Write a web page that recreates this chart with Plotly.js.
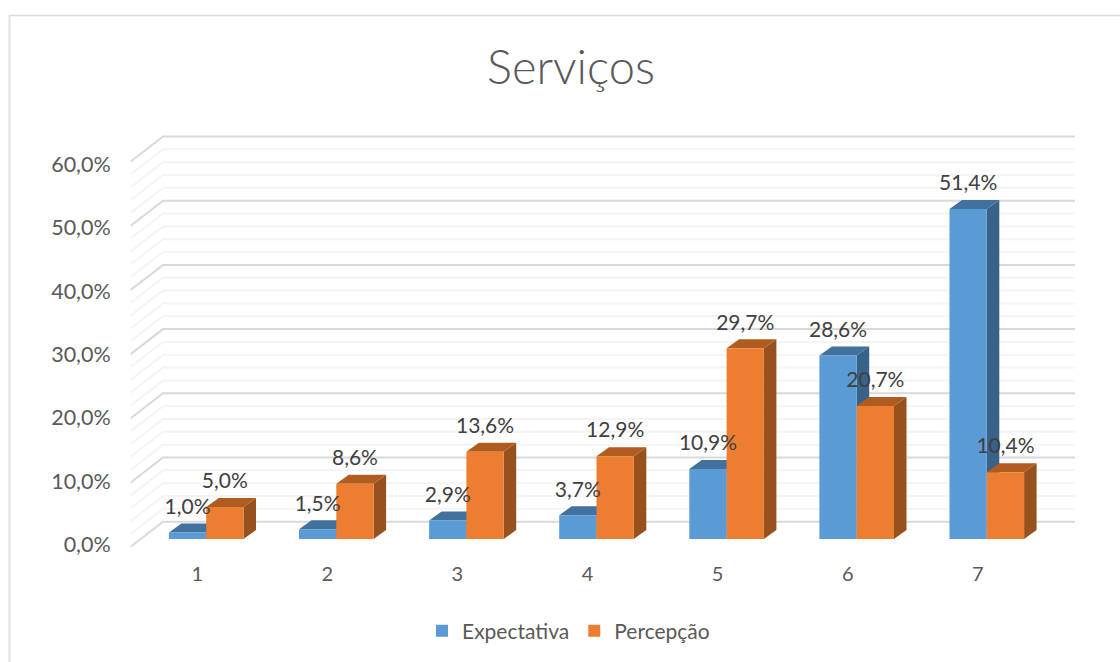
<!DOCTYPE html>
<html><head><meta charset="utf-8">
<script src="https://cdn.plot.ly/plotly-3.0.1.min.js"></script>
<style>html,body{margin:0;padding:0;background:#fff}#chart{width:1120px;height:662px}</style>
</head><body><div id="chart"></div>
<script>
const categories = [1, 2, 3, 4, 5, 6, 7];
const expectativa = [1.0, 1.5, 2.9, 3.7, 10.9, 28.6, 51.4];
const percepcao = [5.0, 8.6, 13.6, 12.9, 29.7, 20.7, 10.4];
const yTicks = [0, 10, 20, 30, 40, 50, 60];
const minorTicks = [2,4,6,8,12,14,16,18,22,24,26,28,32,34,36,38,42,44,46,48,52,54,56,58];

// pixel geometry of the plot frame
const W = 1120, H = 662;
const L = 125, R = 1085, T = 100, B = 560;
const X1 = 206.2, UX = 130.1;    // pixel of category 1, pixels per category
const Y0 = 539, UY = 6.42;       // pixel of value 0, pixels per unit
const dxU = px => px / UX, dyU = px => px / UY;
const xRange = [1 + (L - X1) / UX, 1 + (R - X1) / UX];
const yRange = [(Y0 - B) / UY, (Y0 - T) / UY];
const LBL0 = 544.5, LBLU = 380 / 60; // tick label scale
const y2Range = [(LBL0 - B) / LBLU, (LBL0 - T) / LBLU];
const barW = dxU(37.3), depthX = dxU(12.5), depthY = dyU(9);

const colors = {
  blue: '#5b9bd5', blueTop: '#41719c', blueSide: '#386288',
  orange: '#ed7d31', orangeTop: '#b05c20', orangeSide: '#96511c'
};
const fontName = 'Lato, "Open Sans", sans-serif';
const fmt = v => v.toFixed(1).replace('.', ',') + '%';

const shapes = [];
function gridShape(v, color) {
  const xF = 1 + (130.7 - X1) / UX, xB = 1 + (163 - X1) / UX, xE = 1 + (1075 - X1) / UX;
  const yF = v - dyU(7.7), yB = v + dyU(17.3);
  shapes.push({type: 'path', xref: 'x', yref: 'y', layer: 'below',
    path: `M${xF},${yF}L${xB},${yB}L${xE},${yB}`,
    line: {color: color, width: 2}});
}
minorTicks.forEach(v => gridShape(v, '#f4f4f4'));
yTicks.forEach(v => gridShape(v, '#d9d9d9'));

function faces(x0, x1, v, side, top) {
  shapes.push({type: 'path', xref: 'x', yref: 'y', layer: 'below',
    path: `M${x1},0L${x1 + depthX},${depthY}L${x1 + depthX},${v + depthY}L${x1},${v}Z`,
    fillcolor: side, line: {width: 0}});
  shapes.push({type: 'path', xref: 'x', yref: 'y', layer: 'below',
    path: `M${x0},${v}L${x0 + depthX},${v + depthY}L${x1 + depthX},${v + depthY}L${x1},${v}Z`,
    fillcolor: top, line: {width: 0}});
}
categories.forEach((c, i) => {
  faces(c - barW, c, expectativa[i], colors.blueSide, colors.blueTop);
  faces(c, c + barW, percepcao[i], colors.orangeSide, colors.orangeTop);
});

// outer chart frame
const px = v => (v - L) / (R - L), py = v => (B - v) / (B - T);
shapes.push({type: 'line', xref: 'paper', yref: 'paper', x0: px(9), x1: px(W), y0: py(15.5), y1: py(15.5),
  line: {color: '#d9d9d9', width: 1.5}, layer: 'below'});
shapes.push({type: 'line', xref: 'paper', yref: 'paper', x0: px(9.5), x1: px(9.5), y0: py(15), y1: py(H),
  line: {color: '#e2e2e2', width: 2}, layer: 'below'});

const labelShift = dyU(24);
const traces = [
  {type: 'bar', name: 'Expectativa', x: categories, y: expectativa,
   marker: {color: colors.blue}, hoverinfo: 'x+y'},
  {type: 'bar', name: 'Percepção', x: categories, y: percepcao,
   marker: {color: colors.orange}, hoverinfo: 'x+y'},
  {type: 'scatter', mode: 'text', showlegend: false, hoverinfo: 'skip',
   x: categories.map(c => c - barW / 2), y: expectativa.map(v => v + labelShift),
   text: expectativa.map(fmt), textposition: 'middle center', cliponaxis: false,
   textfont: {family: fontName, size: 21, color: '#404040'}},
  {type: 'scatter', mode: 'text', showlegend: false, hoverinfo: 'skip',
   x: categories.map(c => c + barW / 2), y: percepcao.map(v => v + labelShift),
   text: percepcao.map(fmt), textposition: 'middle center', cliponaxis: false,
   textfont: {family: fontName, size: 21, color: '#404040'}},
  {type: 'scatter', mode: 'markers', showlegend: false, hoverinfo: 'skip',
   x: yTicks.map(() => categories[0]), y: yTicks, yaxis: 'y2', marker: {opacity: 0}}
];

const layout = {
  width: W, height: H,
  margin: {l: L, r: W - R, t: T, b: H - B, pad: 0},
  paper_bgcolor: '#fff', plot_bgcolor: 'rgba(0,0,0,0)',
  title: {text: 'Serviços', x: 571 / W, xanchor: 'center', y: 1 - 68 / H, yanchor: 'middle',
    font: {family: fontName, size: 47, color: '#595959', weight: 300}},
  barmode: 'group', bargap: 1 - 2 * barW, bargroupgap: 0,
  xaxis: {range: xRange, showgrid: false, zeroline: false, showline: false,
    tickmode: 'array', tickvals: categories.map(c => c - dxU(9)), ticktext: categories.map(String),
    ticks: '', ticklen: 0, tickcolor: 'rgba(0,0,0,0)',
    tickfont: {family: fontName, size: 20, color: '#595959'}},
  yaxis: {range: yRange, visible: false, showgrid: false, zeroline: false},
  yaxis2: {range: y2Range, overlaying: 'y', side: 'left', anchor: 'x', showgrid: false, zeroline: false,
    showline: false, tickmode: 'array', tickvals: yTicks, ticktext: yTicks.map(fmt),
    ticks: 'outside', ticklen: 9, tickcolor: 'rgba(0,0,0,0)',
    tickfont: {family: fontName, size: 21.5, color: '#595959'}},
  legend: {orientation: 'h', x: 422 / W, xref: 'container', y: 1 - 631 / H, yref: 'container', yanchor: 'middle',
    xanchor: 'left', font: {family: fontName, size: 21, color: '#595959'}, bgcolor: 'rgba(0,0,0,0)', traceorder: 'normal'},
  shapes: shapes
};
Plotly.newPlot('chart', traces, layout, {displayModeBar: false, staticPlot: true});
</script></body></html>
